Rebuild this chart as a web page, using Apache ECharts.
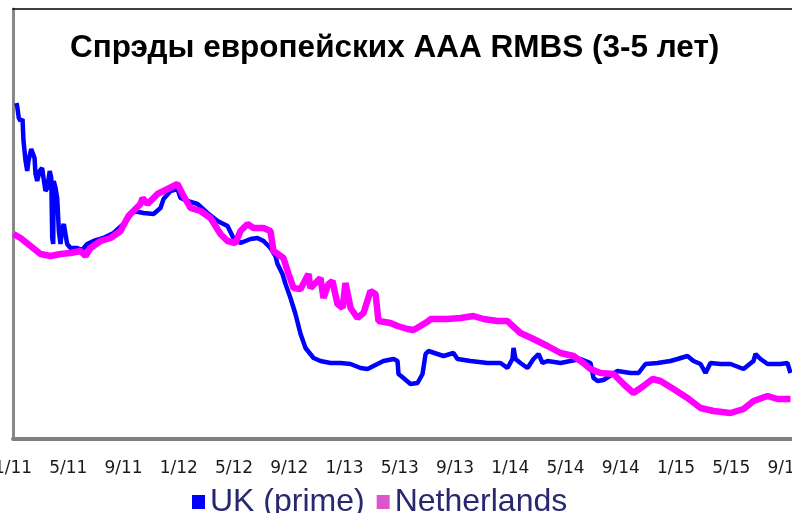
<!DOCTYPE html>
<html>
<head>
<meta charset="utf-8">
<title>Спрэды европейских AAA RMBS</title>
<script src="https://cdn.jsdelivr.net/npm/echarts@6/dist/echarts.min.js"></script>
<style>
  html, body { margin: 0; padding: 0; background: #fff; }
  #main { width: 792px; height: 513px; }
</style>
</head>
<body>
<div id="main"></div>
<script>
// подписи оси X (каждые 4 месяца начиная с 1/11)
var tickLabels = ['1/11', '5/11', '9/11', '1/12', '5/12', '9/12', '1/13', '5/13',
                  '9/13', '1/14', '5/14', '9/14', '1/15', '5/15', '9/15'];

// UK (prime): месяцы от января 2011 и спред, б.п. (оценка по картинке)
var ukMonths = [0.25, 0.30, 0.42, 0.54, 0.69, 0.76, 0.91, 1.03, 1.12, 1.32, 1.46, 1.56, 1.63, 1.75, 1.94,
  2.11, 2.21, 2.35, 2.48, 2.66, 2.77, 2.84, 2.91, 2.95, 3.08, 3.20, 3.32, 3.44, 3.56, 3.68, 3.80, 3.92,
  4.16, 4.65, 5.01, 5.37, 5.83, 6.55, 7.28, 8.00, 8.36, 8.72, 9.45, 10.17, 10.68, 10.90, 11.40, 11.91,
  12.13, 12.63, 13.36, 14.08, 14.81, 15.53, 15.96, 16.47, 17.20, 17.70, 18.14, 18.64, 19.00, 19.15,
  19.51, 19.73, 20.09, 20.45, 20.82, 21.18, 21.76, 22.26, 22.99, 23.71, 24.44, 25.16, 25.67, 26.10,
  26.82, 27.55, 27.84, 27.91, 28.27, 28.78, 29.29, 29.65, 29.87, 30.08, 30.73, 31.17, 31.89, 32.18,
  33.12, 34.35, 35.30, 35.80, 36.16, 36.24, 36.38, 36.74, 37.25, 37.68, 38.05, 38.34, 38.70, 39.64,
  40.36, 41.09, 41.81, 42.03, 42.32, 42.75, 43.77, 44.71, 45.29, 45.79, 46.66, 47.60, 48.11, 48.83,
  49.27, 49.78, 50.14, 50.50, 51.22, 51.95, 52.89, 53.61, 53.76, 54.12, 54.63, 55.57, 56.07, 56.29];
var ukSpread = [168, 166.5, 160.5, 159, 160, 149, 139, 134, 139, 145, 145.5, 140.5, 132.5, 129, 134,
  135.5, 130.5, 124, 125.5, 134, 130.5, 100.5, 97.5, 129, 125.5, 120.5, 104, 97.5, 105.5, 107.5, 102.5, 97.5,
  95.5, 95.5, 94.5, 97.5, 99, 100.5, 103, 107.5, 110.5, 114, 113, 112.5, 115.5, 120, 124, 125,
  120.5, 119, 117.5, 113, 109, 106.5, 100.5, 98, 100, 100.5, 99, 95.5, 91.5, 87.5,
  82.5, 77.5, 70.5, 62.5, 52.5, 45.5, 40.5, 39, 38, 38, 37.5, 35.5, 35, 36.5,
  39, 40, 39, 32.5, 30.5, 27.5, 28, 32.5, 42.5, 44, 42.5, 41.5, 43, 40,
  39, 38, 38, 35.5, 40, 45.5, 40, 38, 35.5, 40, 42.5, 38, 39, 38,
  39, 40, 38, 30.5, 29, 29.5, 34, 33, 33, 37.5, 38, 39, 40, 41.5,
  39, 37.5, 33, 38, 37.5, 37.5, 35, 39, 42.5, 40, 37.5, 37.5, 38, 33];

// Netherlands
var nlMonths = [0.04, 0.54, 1.27, 1.99, 2.72, 3.44, 4.16, 4.89, 5.25, 5.61, 6.34, 7.06, 7.78, 8.36,
  9.23, 9.38, 9.74, 10.46, 11.19, 11.91, 12.27, 12.85, 13.58, 14.30, 15.02, 15.53, 16.11, 16.47, 16.98,
  17.41, 18.14, 18.64, 18.86, 19.58, 19.95, 20.31, 20.82, 21.39, 21.54, 22.26, 22.48, 22.84, 23.13,
  23.49, 23.86, 24.07, 24.44, 24.94, 25.38, 25.88, 26.25, 26.46, 27.33, 27.84, 28.56, 29.00, 29.50,
  30.08, 30.23, 31.46, 32.40, 33.34, 34.06, 35.08, 35.80, 36.02, 36.74, 37.68, 38.70, 39.64, 40.58,
  41.30, 41.81, 42.54, 43.48, 44.20, 44.92, 45.65, 46.30, 46.88, 47.82, 48.83, 49.78, 50.72, 51.95,
  52.89, 53.61, 54.63, 55.35, 56.29];
var nlSpread = [102.5, 100.5, 96.5, 92.5, 91.5, 92.5, 93, 94, 91.5, 95.5, 99, 100.5, 104, 111.5,
  117.5, 120.5, 117.5, 122.5, 125, 127.5, 122.5, 115.5, 114, 110.5, 102.5, 99, 98, 104, 107.5,
  105.5, 105.5, 104, 94, 90.5, 82.5, 75.5, 75, 82.5, 75.5, 80.5, 70.5, 77.5, 79,
  67.5, 65.5, 78, 65.5, 60.5, 63, 74, 72.5, 59, 58, 56.5, 55, 54.5, 56.5,
  59, 60, 60, 60.5, 61.5, 60, 59, 59, 57.5, 53, 50, 46.5, 43, 41.5,
  38, 35, 33, 32.5, 27.5, 23, 26.5, 30, 29, 25, 20.5, 15.5, 14, 13,
  15, 19, 21.5, 20, 20];

function zip(a, b) {
  var out = [];
  for (var i = 0; i < a.length; i++) out.push([a[i], b[i]]);
  return out;
}

var myChart = echarts.init(document.getElementById('main'));

var option = {
  animation: false,
  backgroundColor: '#ffffff',
  title: {
    text: 'Спрэды европейских AAA RMBS (3-5 лет)',
    left: 65,
    top: 27,
    textStyle: { fontFamily: 'Liberation Sans', fontWeight: 'bold', fontSize: 31.5, color: '#000' }
  },
  legend: {
    left: 187,
    top: 481,
    icon: 'rect',
    itemWidth: 13,
    itemHeight: 14,
    itemGap: 12,
    textStyle: { fontFamily: 'Liberation Sans', fontSize: 32, color: '#28286e' },
    data: [
      { name: 'UK (prime)', itemStyle: { color: '#0000ff' } },
      { name: 'Netherlands', itemStyle: { color: '#dd55cc' } }
    ]
  },
  grid: { left: 13, right: 0, top: 9, bottom: 74, outerBoundsMode: 'none', containLabel: false },
  xAxis: [{
    type: 'value',
    min: 0,
    max: 56.4,
    interval: 4,
    splitLine: { show: false },
    axisTick: { show: false },
    axisLine: { lineStyle: { color: '#7f7f7f', width: 4 } },
    axisLabel: {
      margin: 21,
      fontFamily: 'DejaVu Sans',
      fontSize: 17,
      color: '#1a1a1a',
      showMinLabel: true,
      showMaxLabel: true,
      formatter: function (v) {
        return v % 4 === 0 ? (tickLabels[v / 4] || '') : '';
      }
    }
  }, {
    type: 'value',
    position: 'top',
    min: 0,
    max: 56.4,
    splitLine: { show: false },
    axisTick: { show: false },
    axisLabel: { show: false },
    axisLine: { lineStyle: { color: '#000', width: 1.5 } }
  }],
  yAxis: {
    type: 'value',
    min: 0,
    max: 215,
    splitLine: { show: false },
    axisTick: { show: false },
    axisLabel: { show: false },
    axisLine: { show: true, lineStyle: { color: '#888', width: 3 } }
  },
  series: [
    {
      name: 'UK (prime)',
      type: 'line',
      data: zip(ukMonths, ukSpread),
      showSymbol: false,
      lineStyle: { color: '#0000ff', width: 4.5 },
      itemStyle: { color: '#0000ff' }
    },
    {
      name: 'Netherlands',
      type: 'line',
      data: zip(nlMonths, nlSpread),
      showSymbol: false,
      lineStyle: { color: '#ff00ff', width: 6.5 },
      itemStyle: { color: '#ff00ff' }
    }
  ]
};

myChart.setOption(option);
</script>
</body>
</html>
